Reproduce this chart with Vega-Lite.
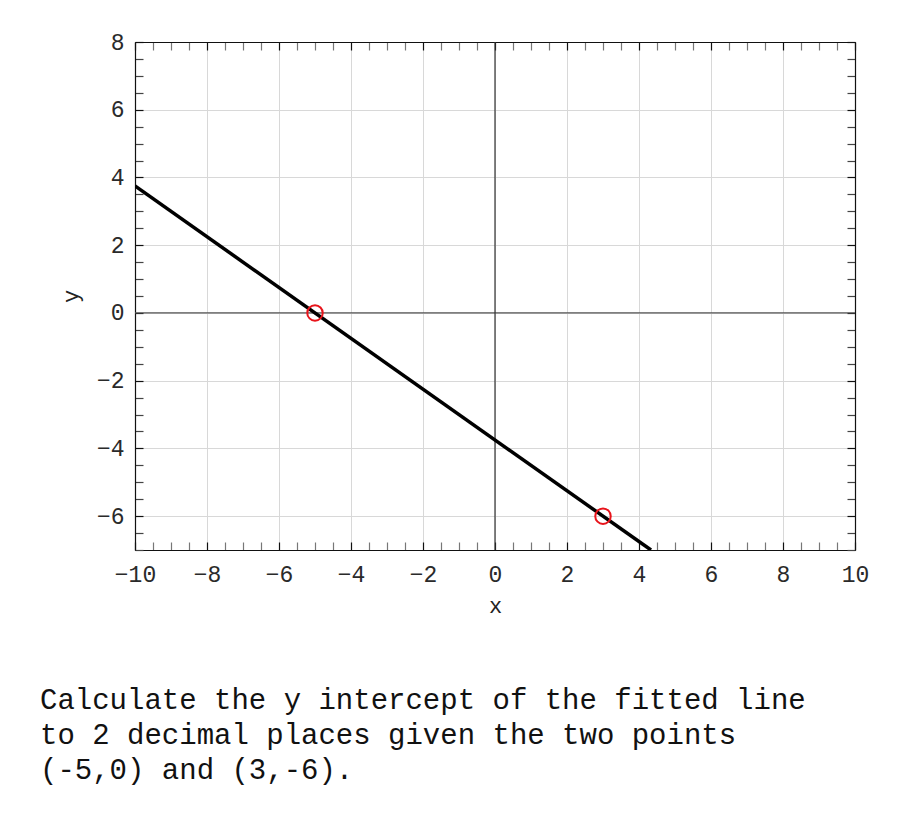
{
  "$schema": "https://vega.github.io/schema/vega-lite/v6.json",
  "width": 720,
  "height": 508,
  "autosize": {"type": "none"},
  "padding": {"left": 135, "top": 42, "right": 45, "bottom": 275},
  "background": "white",
  "config": {
    "view": {"stroke": null},
    "font": "Liberation Mono",
    "axis": {
      "labelFont": "Liberation Mono",
      "labelFontSize": 23,
      "labelColor": "#2a2a2a",
      "labelFlush": false,
      "titleFont": "Liberation Mono",
      "titleFontSize": 22,
      "titleFontWeight": "normal",
      "titleColor": "#222222",
      "domainColor": "#111111",
      "domainWidth": 1.2,
      "gridColor": "#d8d8d8",
      "gridWidth": 1,
      "tickWidth": 1.2,
      "tickSize": -8
    }
  },
  "title": {
    "text": [
      "Calculate the y intercept of the fitted line",
      "to 2 decimal places given the two points",
      "(-5,0) and (3,-6)."
    ],
    "orient": "bottom",
    "anchor": "start",
    "frame": "group",
    "dx": -95,
    "offset": 70,
    "font": "Liberation Mono",
    "fontSize": 29,
    "fontWeight": "normal",
    "color": "#111111",
    "lineHeight": 35
  },
  "datasets": {
    "fit": [
      {"x": -10, "y": 3.75},
      {"x": 4.3333, "y": -7}
    ],
    "given": [
      {"x": -5, "y": 0},
      {"x": 3, "y": -6}
    ],
    "zeroX": [{"x": 0}],
    "zeroY": [{"y": 0}]
  },
  "resolve": {"axis": {"x": "independent", "y": "independent"}},
  "layer": [
    {
      "data": {"name": "fit"},
      "mark": {"type": "line", "strokeOpacity": 0, "clip": true},
      "encoding": {
        "x": {
          "field": "x",
          "type": "quantitative",
          "scale": {"domain": [-10, 10], "nice": false, "zero": false},
          "axis": {
            "orient": "bottom",
            "title": "x",
            "titlePadding": 9,
            "values": [-10, -9.5, -9, -8.5, -8, -7.5, -7, -6.5, -6, -5.5, -5, -4.5, -4, -3.5, -3, -2.5, -2, -1.5, -1, -0.5, 0, 0.5, 1, 1.5, 2, 2.5, 3, 3.5, 4, 4.5, 5, 5.5, 6, 6.5, 7, 7.5, 8, 8.5, 9, 9.5, 10],
            "labelExpr": "datum.value % 2 === 0 ? format(datum.value, 'd') : ''",
            "labelPadding": 21,
            "grid": true,
            "gridOpacity": {"condition": {"test": "datum.value % 2 === 0", "value": 1}, "value": 0},
            "tickColor": {"condition": {"test": "datum.value % 2 === 0", "value": "#111111"}, "value": "#777777"},
            "encode": {"ticks": {"update": {"y2": {"signal": "datum.value % 2 === 0 ? -8 : -4"}}}}
          }
        },
        "y": {
          "field": "y",
          "type": "quantitative",
          "scale": {"domain": [-7, 8], "nice": false, "zero": false},
          "axis": {
            "orient": "left",
            "title": "y",
            "titlePadding": 14,
            "values": [-7, -6.5, -6, -5.5, -5, -4.5, -4, -3.5, -3, -2.5, -2, -1.5, -1, -0.5, 0, 0.5, 1, 1.5, 2, 2.5, 3, 3.5, 4, 4.5, 5, 5.5, 6, 6.5, 7, 7.5, 8],
            "labelExpr": "datum.value % 2 === 0 ? format(datum.value, 'd') : ''",
            "labelPadding": 19,
            "grid": true,
            "gridOpacity": {"condition": {"test": "datum.value % 2 === 0", "value": 1}, "value": 0},
            "tickColor": {"condition": {"test": "datum.value % 2 === 0", "value": "#111111"}, "value": "#444444"},
            "encode": {"ticks": {"update": {"x2": {"signal": "datum.value % 2 === 0 ? 8 : 4"}}}}
          }
        }
      }
    },
    {
      "data": {"name": "fit"},
      "mark": {"type": "line", "strokeOpacity": 0, "clip": true},
      "encoding": {
        "x": {
          "field": "x",
          "type": "quantitative",
          "axis": {
            "orient": "top",
            "title": null,
            "labels": false,
            "grid": false,
            "values": [-10, -9.5, -9, -8.5, -8, -7.5, -7, -6.5, -6, -5.5, -5, -4.5, -4, -3.5, -3, -2.5, -2, -1.5, -1, -0.5, 0, 0.5, 1, 1.5, 2, 2.5, 3, 3.5, 4, 4.5, 5, 5.5, 6, 6.5, 7, 7.5, 8, 8.5, 9, 9.5, 10],
            "tickColor": {"condition": {"test": "datum.value % 2 === 0", "value": "#111111"}, "value": "#777777"},
            "encode": {"ticks": {"update": {"y2": {"signal": "datum.value % 2 === 0 ? 8 : 4"}}}}
          }
        },
        "y": {
          "field": "y",
          "type": "quantitative",
          "axis": {
            "orient": "right",
            "title": null,
            "labels": false,
            "grid": false,
            "values": [-7, -6.5, -6, -5.5, -5, -4.5, -4, -3.5, -3, -2.5, -2, -1.5, -1, -0.5, 0, 0.5, 1, 1.5, 2, 2.5, 3, 3.5, 4, 4.5, 5, 5.5, 6, 6.5, 7, 7.5, 8],
            "tickColor": {"condition": {"test": "datum.value % 2 === 0", "value": "#111111"}, "value": "#444444"},
            "encode": {"ticks": {"update": {"x2": {"signal": "datum.value % 2 === 0 ? -8 : -4"}}}}
          }
        }
      }
    },
    {
      "data": {"name": "zeroY"},
      "mark": {"type": "rule", "color": "#555555", "strokeWidth": 1.2},
      "encoding": {
        "y": {"field": "y", "type": "quantitative", "axis": null}
      }
    },
    {
      "data": {"name": "zeroX"},
      "mark": {"type": "rule", "color": "#333333", "strokeWidth": 1.2},
      "encoding": {
        "x": {"field": "x", "type": "quantitative", "axis": null}
      }
    },
    {
      "data": {"name": "fit"},
      "mark": {"type": "line", "color": "black", "strokeWidth": 3.5, "clip": true},
      "encoding": {
        "x": {"field": "x", "type": "quantitative", "axis": null},
        "y": {"field": "y", "type": "quantitative", "axis": null}
      }
    },
    {
      "data": {"name": "given"},
      "mark": {"type": "point", "shape": "circle", "filled": false, "stroke": "#e8141b", "strokeWidth": 2, "size": 240, "opacity": 1},
      "encoding": {
        "x": {"field": "x", "type": "quantitative", "axis": null},
        "y": {"field": "y", "type": "quantitative", "axis": null}
      }
    }
  ]
}
